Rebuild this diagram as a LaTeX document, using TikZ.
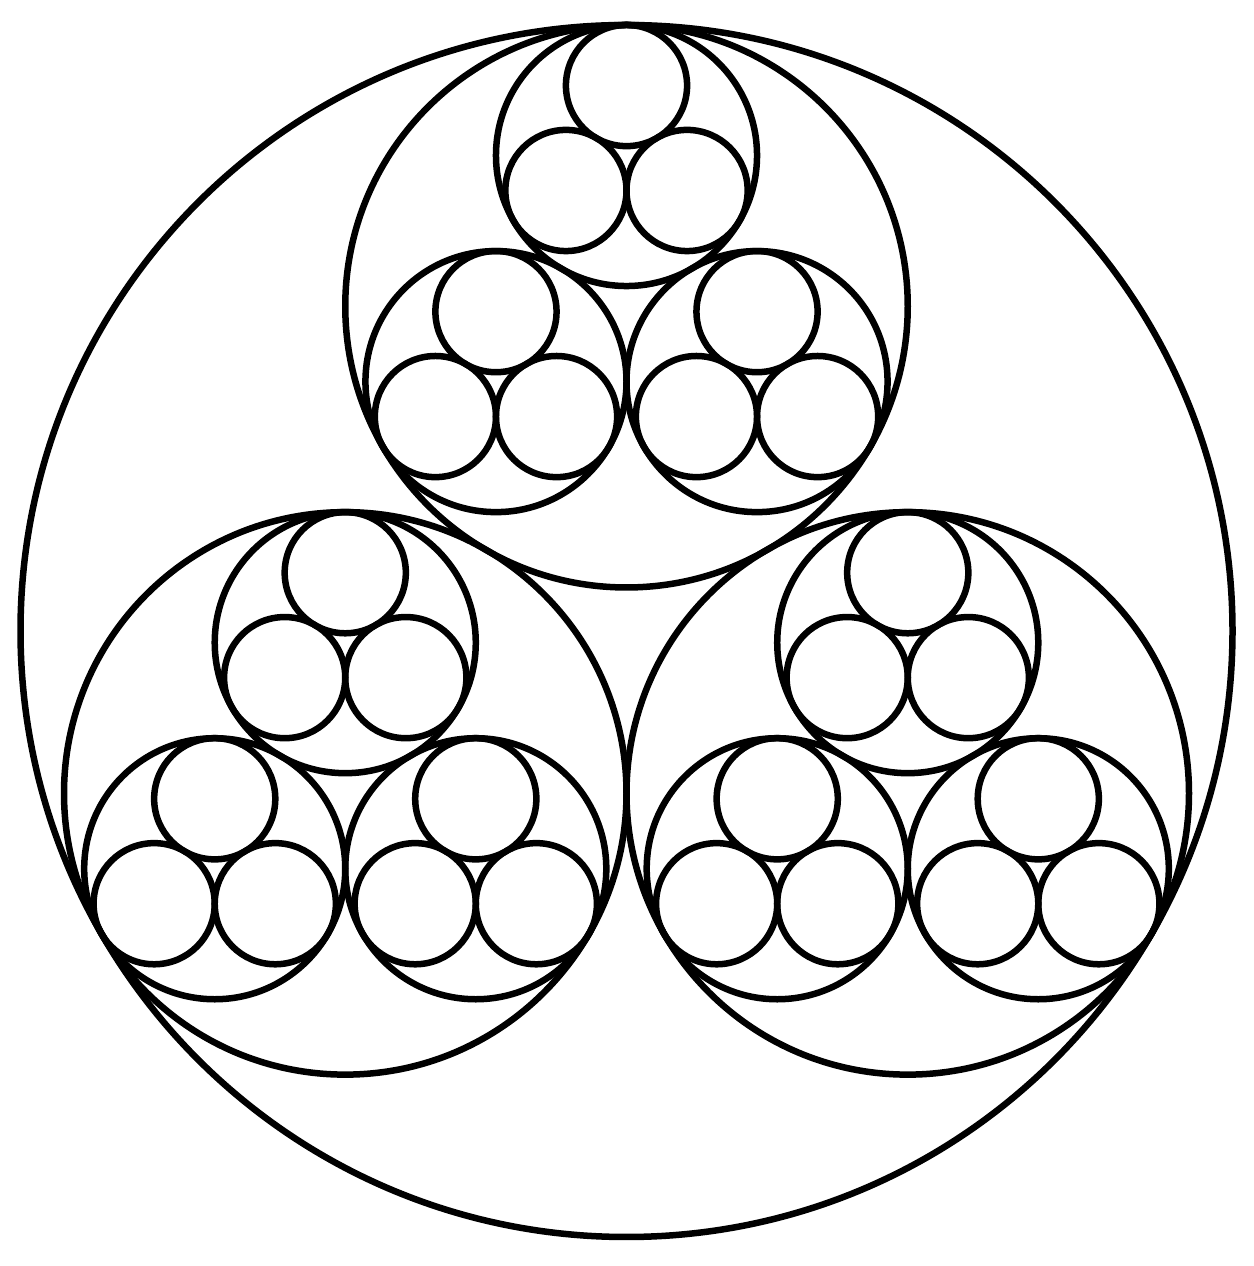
\documentclass[tikz,border=0pt]{standalone}
\begin{document}
\begin{tikzpicture}[x=1pt,y=1pt,ring/.style={draw=black,line width=6.5pt}]
\useasboundingbox (0,0) rectangle (1253,1266);
\pgfmathsetmacro{\Rz}{606}
\pgfmathsetmacro{\Ra}{\Rz*0.464102}
\pgfmathsetmacro{\Da}{\Rz-\Ra}
\pgfmathsetmacro{\Rb}{\Ra*0.464102}
\pgfmathsetmacro{\Db}{\Ra-\Rb}
\pgfmathsetmacro{\Rc}{\Rb*0.464102}
\pgfmathsetmacro{\Dc}{\Rb-\Rc}
\begin{scope}[shift={(626.5,635)}]
\draw[ring] (0,0) circle[radius=\Rz];
\foreach \a in {90,210,330}{
  \begin{scope}[shift={(\a:\Da)}]
  \draw[ring] (0,0) circle[radius=\Ra];
  \foreach \b in {90,210,330}{
    \begin{scope}[shift={(\b:\Db)}]
    \draw[ring] (0,0) circle[radius=\Rb];
    \foreach \c in {90,210,330}{
      \draw[ring] (\c:\Dc) circle[radius=\Rc];
    }
    \end{scope}
  }
  \end{scope}
}
\end{scope}
\end{tikzpicture}
\end{document}
